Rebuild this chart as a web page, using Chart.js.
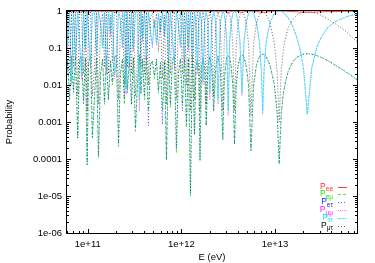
<!DOCTYPE html>
<html>
<head>
<meta charset="utf-8">
<title>Oscillation probabilities</title>
<script src="https://cdn.jsdelivr.net/npm/chart.js@4.4.1/dist/chart.umd.min.js"></script>
<style>
    html, body { margin: 0; padding: 0; background: #fff; }
    #wrap { width: 375px; height: 263px; }
</style>
</head>
<body>
<div id="wrap"><canvas id="chart" width="375" height="263"></canvas></div>
<script>
// Energies (eV), shared by every curve
const energy = [
    7.5e13, 6.32e13, 5.53e13, 4.43e13, 3.69e13, 3.16e13, 2.77e13, 2.46e13, 2.21e13, 2.01e13,
    1.84e13, 1.70e13, 1.58e13, 1.48e13, 1.38e13, 1.30e13, 1.23e13, 1.165e13, 1.107e13, 1.054e13,
    9.84e12, 8.85e12, 8.05e12, 7.63e12, 7.38e12, 7.14e12, 6.81e12, 6.32e12, 5.90e12, 5.53e12,
    5.21e12, 4.92e12, 4.66e12, 4.43e12, 4.22e12, 4.02e12, 3.85e12, 3.69e12, 3.54e12, 3.40e12,
    3.28e12, 3.16e12, 3.05e12, 2.95e12, 2.86e12, 2.77e12, 2.60e12, 2.46e12, 2.33e12, 2.21e12,
    2.11e12, 2.01e12, 1.92e12, 1.84e12, 1.77e12, 1.70e12, 1.64e12, 1.58e12, 1.53e12, 1.48e12,
    1.43e12, 1.38e12,
    1.31e12, 1.248e12, 1.188e12, 1.131e12, 1.077e12, 1.025e12, 9.76e11, 9.29e11, 8.84e11, 8.42e11,
    8.02e11, 7.63e11, 7.27e11, 6.92e11, 6.59e11, 6.27e11, 5.97e11, 5.68e11, 5.41e11, 5.15e11,
    4.90e11, 4.67e11, 4.44e11, 4.23e11, 4.03e11, 3.84e11, 3.70e11, 3.56e11, 3.39e11, 3.23e11,
    3.07e11, 2.93e11, 2.79e11, 2.65e11, 2.57e11, 2.46e11, 2.35e11, 2.23e11, 2.13e11, 2.02e11,
    1.93e11, 1.83e11, 1.75e11, 1.66e11, 1.58e11, 1.51e11, 1.44e11, 1.37e11, 1.30e11, 1.24e11,
    1.18e11, 1.12e11, 1.07e11, 1.02e11, 9.85e10, 9.45e10, 9.00e10, 8.57e10, 8.16e10, 7.82e10,
    7.39e10, 7.04e10, 6.70e10, 6.38e10, 6.07e10, 6.0e10
];

// P_ee (red)
const pEE = [
    .99, .98, .98, .97, .96, .95, .94, .93, .93, .93,
    .94, .95, .96, .97, .98, .99, .99, 1, 1, 1,
    .99, .97, .94, .93, .93, .93, .94, .97, .99, 1,
    .99, .97, .94, .93, .94, .97, .99, 1, .99, .97,
    .94, .93, .94, .97, .99, 1, .97, .94, .97, 1,
    .97, .94, .97, 1, .97, .94, .97, 1, .97, .95,
    .97, 1,
    .94, 1, .95, 1, .94, 1, .95, .98, 1, .94,
    .95, 1, .95, 1, .96, 1, .96, .99, .95, .98,
    .96, .97, 1, .94, 1, .95, .99, .94, .99, 1,
    .95, 1, .94, .99, .94, 1, .95, .98, 1, .94,
    .94, .99, .96, 1, .94, 1, .95, .98, 1, .95,
    1, 1, .94, .96, 1, .95, 1, .94, .95, 1,
    .94, .99, .94, 1, .95, .98
];

// P_e-mu (green)
const pEMu = [
    .014, .019, .024, .034, .045, .055, .063, .068, .07, .068,
    .062, .055, .045, .034, .023, .013, .0065, .0018, .00007, .0017,
    .010, .034, .058, .067, .068, .067, .058, .034, .010, .00017,
    .010, .033, .057, .065, .057, .032, .010, .00025, .010, .032,
    .055, .062, .055, .030, .010, .00034, .030, .060, .030, .002,
    .030, .058, .030, .0008, .030, .055, .030, .00009, .030, .050,
    .030, .00046,
    .06, .00001, .055, .0007, .06, .003, .05, .02, .00015, .06,
    .05, .0025, .055, .00009, .045, .002, .04, .006, .05, .015,
    .045, .035, .002, .06, .004, .05, .006, .065, .01, .00056,
    .055, .003, .06, .008, .06, .003, .05, .02, .00022, .06,
    .06, .01, .045, .004, .06, .003, .05, .02, .00011, .055,
    .005, .00037, .06, .04, .00007, .055, .004, .06, .05, .00037,
    .06, .007, .06, .004, .05, .02
];

// P_e-tau (blue)
const pETau = [
    .014, .019, .024, .034, .045, .055, .063, .068, .07, .068,
    .062, .055, .045, .034, .023, .013, .0065, .0018, .00008, .0017,
    .010, .034, .058, .067, .068, .067, .058, .034, .010, .00017,
    .010, .033, .057, .065, .057, .032, .010, .00025, .010, .032,
    .055, .062, .055, .030, .010, .00034, .030, .060, .030, .002,
    .030, .058, .030, .0008, .030, .055, .030, .00009, .030, .050,
    .030, .00046,
    .058, .000012, .05, .0009, .06, .002, .052, .02, .0002, .06,
    .045, .003, .055, .0001, .045, .00085, .04, .007, .05, .018,
    .045, .035, .0008, .06, .005, .05, .006, .065, .01, .0007,
    .055, .003, .06, .006, .06, .004, .05, .02, .00025, .06,
    .06, .012, .045, .004, .06, .0035, .05, .02, .00012, .055,
    .004, .0004, .06, .04, .00007, .055, .003, .06, .05, .00037,
    .06, .006, .06, .004, .05, .02
];

// P_mu-mu (magenta)
const pMuMu = [
    .82, .75, .67, .52, .37, .21, .10, .028, .0016, .03,
    .095, .20, .33, .49, .65, .79, .90, .97, .995, .97,
    .86, .50, .15, .025, .0016, .025, .15, .50, .86, .995,
    .86, .50, .15, .005, .15, .50, .86, .995, .86, .50,
    .15, .0015, .15, .50, .86, .995, .50, .003, .50, .99,
    .50, .004, .50, .99, .50, .010, .50, .99, .50, .020,
    .50, .99,
    .05, .99, .08, .98, .04, .97, .10, .50, .99, .03,
    .15, .97, .06, .99, .20, .97, .25, .90, .12, .60,
    .10, .30, .98, .05, .97, .15, .96, .002, .95, .99,
    .08, .97, .03, .96, .0056, .98, .10, .60, .99, .04,
    .015, .95, .20, .97, .02, .96, .12, .50, .99, .06,
    .96, .99, .03, .25, .99, .08, .97, .014, .15, .99,
    .05, .96, .01, .97, .10, .50
];

// P_tau-tau (cyan)
const pTauTau = [
    .82, .75, .67, .52, .37, .21, .10, .028, .0016, .03,
    .095, .20, .33, .49, .65, .79, .90, .97, .995, .97,
    .86, .50, .15, .025, .002, .025, .15, .50, .86, .995,
    .86, .50, .15, .006, .15, .50, .86, .995, .86, .50,
    .15, .002, .15, .50, .86, .995, .50, .004, .50, .99,
    .50, .006, .50, .99, .50, .012, .50, .99, .50, .025,
    .50, .99,
    .06, .99, .10, .97, .05, .97, .12, .45, .99, .04,
    .20, .96, .05, .99, .22, .96, .30, .88, .14, .55,
    .12, .28, .98, .06, .96, .18, .95, .004, .95, .99,
    .10, .97, .04, .96, .008, .98, .12, .60, .99, .05,
    .02, .95, .25, .97, .03, .96, .10, .50, .99, .07,
    .96, .99, .04, .20, .99, .10, .97, .02, .18, .99,
    .06, .96, .012, .97, .12, .50
];

// P_mu-tau (black)
const pMuTau = [
    .15, .22, .30, .45, .60, .75, .87, .93, .95, .93,
    .87, .77, .64, .50, .34, .20, .095, .025, .001, .022,
    .13, .47, .80, .92, .95, .92, .80, .47, .13, .0015,
    .13, .47, .80, .94, .80, .47, .13, .002, .13, .47,
    .80, .94, .80, .47, .13, .002, .47, .94, .47, .005,
    .47, .93, .47, .003, .47, .92, .47, .002, .47, .92,
    .47, .004,
    .93, .002, .90, .01, .92, .02, .88, .45, .004, .94,
    .82, .02, .90, .003, .78, .015, .72, .08, .85, .35,
    .86, .68, .01, .92, .02, .83, .03, .95, .04, .005,
    .90, .02, .93, .03, .93, .01, .88, .38, .004, .92,
    .94, .04, .78, .02, .94, .03, .85, .45, .003, .90,
    .03, .005, .93, .72, .002, .90, .02, .93, .83, .005,
    .92, .03, .93, .02, .88, .45
];

// Legend subscripts and axis ticks
const legendSubs = ['ee', 'eμ', 'eτ', 'μμ', 'ττ', 'μτ'];
const xTickValues = [1e11, 1e12, 1e13];
const xTickLabels = ['1e+11', '1e+12', '1e+13'];
const yTickValues = [1e-6, 1e-5, 1e-4, 1e-3, 1e-2, 1e-1, 1];
const yTickLabels = ['1e-06', '1e-05', '0.0001', '0.001', '0.01', '0.1', '1'];

const FONT = 'Liberation Sans, Arial, sans-serif';

// gnuplot-like frame with inward major/minor ticks on all four sides
const framePlugin = {
    id: 'gnuFrame',
    afterDatasetsDraw: (chart) => {
        const { ctx, chartArea: a, scales } = chart;
        const xs = scales.x, ys = scales.y;
        ctx.save();
        ctx.strokeStyle = '#000';
        ctx.lineWidth = 1;
        ctx.strokeRect(a.left - 0.5, a.top - 0.5, a.right - a.left + 1, a.bottom - a.top + 1);

        ctx.beginPath();
        for (let d = -6; d <= 0; d++) {
            for (let m = 1; m <= 9; m++) {
                const v = m * Math.pow(10, d);
                if (v > 1) break;
                const py = Math.round(ys.getPixelForValue(v)) + 0.5;
                const len = m === 1 ? 4 : 2;
                ctx.moveTo(a.left, py); ctx.lineTo(a.left + len, py);
                ctx.moveTo(a.right, py); ctx.lineTo(a.right - len, py);
            }
        }
        for (let d = 10; d <= 13; d++) {
            for (let m = 1; m <= 9; m++) {
                const v = m * Math.pow(10, d);
                if (v < xs.min || v > xs.max) continue;
                const px = Math.round(xs.getPixelForValue(v)) + 0.5;
                const len = m === 1 ? 4 : 2;
                ctx.moveTo(px, a.bottom); ctx.lineTo(px, a.bottom - len);
                ctx.moveTo(px, a.top); ctx.lineTo(px, a.top + len);
            }
        }
        ctx.stroke();
        ctx.restore();
    }
};

// Key in the lower right corner, text coloured like the lines
const keyPlugin = {
    id: 'gnuKey',
    afterDraw: (chart) => {
        const ctx = chart.ctx;
        const textRight = 333, lineX0 = 338, lineX1 = 347, rowTop = 186.5, rowStep = 7.8;
        ctx.save();
        chart.data.datasets.forEach((ds, i) => {
            const y = rowTop + i * rowStep;
            ctx.fillStyle = ds.keyColor;
            ctx.textAlign = 'right';
            ctx.textBaseline = 'alphabetic';
            ctx.font = '6.5px ' + FONT;
            ctx.fillText(legendSubs[i], textRight, y + 4.6);
            const subW = ctx.measureText(legendSubs[i]).width;
            ctx.font = '8.5px ' + FONT;
            ctx.fillText('P', textRight - subW, y + 2);

            ctx.strokeStyle = ds.borderColor;
            ctx.lineWidth = 1;
            ctx.setLineDash(ds.borderDash);
            ctx.beginPath();
            ctx.moveTo(lineX0, Math.round(y) + 0.5);
            ctx.lineTo(lineX1, Math.round(y) + 0.5);
            ctx.stroke();
        });
        ctx.restore();
    }
};

const ChartApp = {
    series: (label, values, color, keyColor, dash, order) => ({
        label: label,
        data: energy.map((e, i) => ({ x: e, y: values[i] })),
        borderColor: color,
        keyColor: keyColor,
        borderWidth: 1,
        borderDash: dash,
        pointRadius: 0,
        showLine: true,
        fill: false,
        tension: 0,
        order: order
    }),

    init: () => {
        const datasets = [
            ChartApp.series('P_ee', pEE, 'rgba(255,0,0,0.75)', '#ff3030', [], 6),
            ChartApp.series('P_eμ', pEMu, 'rgba(0,230,0,0.7)', '#20e020', [3, 2], 5),
            ChartApp.series('P_eτ', pETau, 'rgba(0,0,255,0.6)', '#2020ff', [1, 2], 4),
            ChartApp.series('P_μμ', pMuMu, 'rgba(255,0,255,0.5)', '#ff20ff', [1, 1], 3),
            ChartApp.series('P_ττ', pTauTau, 'rgba(0,240,255,0.8)', '#00e8ff', [3, 1], 2),
            ChartApp.series('P_μτ', pMuTau, 'rgba(0,0,0,0.6)', '#000000', [1, 2], 1)
        ];

        const tickFont = { family: FONT, size: 9.5 };

        new Chart(document.getElementById('chart'), {
            type: 'scatter',
            data: { datasets: datasets },
            options: {
                responsive: false,
                animation: false,
                layout: { padding: { top: 11, right: 18, left: 0, bottom: 0 } },
                plugins: { legend: { display: false }, tooltip: { enabled: false } },
                scales: {
                    x: {
                        type: 'logarithmic',
                        min: 6.0e10,
                        max: 7.5e13,
                        grid: { display: false, drawTicks: false },
                        border: { display: false },
                        afterBuildTicks: (s) => { s.ticks = xTickValues.map(v => ({ value: v })); },
                        afterFit: (s) => { s.height = 30; },
                        ticks: {
                            autoSkip: false, maxRotation: 0, padding: 6, color: '#000', font: tickFont,
                            callback: (v, i) => xTickLabels[i]
                        },
                        title: { display: true, text: 'E (eV)', color: '#000', font: tickFont, padding: { top: 0, bottom: 0 } }
                    },
                    y: {
                        type: 'logarithmic',
                        min: 1e-6,
                        max: 1,
                        grid: { display: false, drawTicks: false },
                        border: { display: false },
                        afterBuildTicks: (s) => { s.ticks = yTickValues.map(v => ({ value: v })); },
                        afterFit: (s) => { s.width = 67; },
                        ticks: {
                            autoSkip: false, padding: 5, color: '#000', font: tickFont,
                            callback: (v, i) => yTickLabels[i]
                        },
                        title: { display: true, text: 'Probability', color: '#000', font: tickFont, padding: { top: 4, bottom: 0 } }
                    }
                }
            },
            plugins: [framePlugin, keyPlugin]
        });
    }
};

window.addEventListener('DOMContentLoaded', () => {
    try {
        ChartApp.init();
    } catch (e) {
        console.error('Chart init error:', e);
    }
});
</script>
</body>
</html>
